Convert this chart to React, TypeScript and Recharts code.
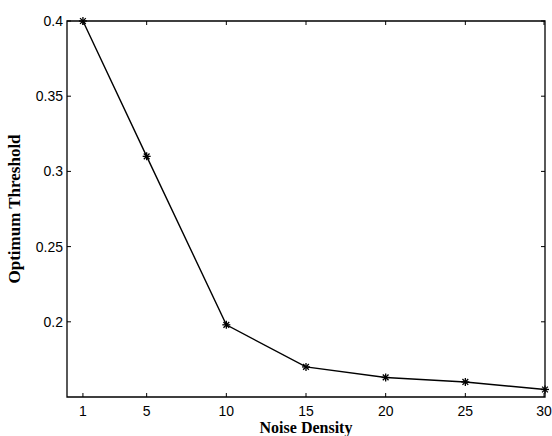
import React from "react";
import { Label, Line, LineChart, ReferenceArea, XAxis, YAxis } from "recharts";

// noise density on x, optimum threshold on y
const densities = [1, 5, 10, 15, 20, 25, 30];
const thresholds = [0.4, 0.31, 0.198, 0.17, 0.163, 0.16, 0.155];

const xTicks = [1, 5, 10, 15, 20, 25, 30];
const yTicks = [0.2, 0.25, 0.3, 0.35, 0.4];
const xDomain: [number, number] = [0, 30];
const yDomain: [number, number] = [0.15, 0.4];

const data = densities.map((d, i) => ({ density: d, threshold: thresholds[i] }));

const TICK_LEN = 4;
const TICK_GAP = 6;
const tickFont = { fontFamily: "'Liberation Sans', Arial, sans-serif", fontSize: 14, fill: "#000" };
const titleFont = { fontFamily: "'Liberation Serif', 'Times New Roman', serif", fontSize: 16, fontWeight: 700, fill: "#000" };

// MATLAB-style ticks: short marks pointing into the plot box
const BottomTick = (props: any) => {
  const { x, y, payload } = props;
  const axisY = y - TICK_GAP;
  return (
    <g>
      <line x1={x} x2={x} y1={axisY} y2={axisY - TICK_LEN} stroke="#000" strokeWidth={1} />
      <text x={x} y={axisY + 9} dy="0.72em" textAnchor="middle" {...tickFont}>
        {payload.value}
      </text>
    </g>
  );
};

const TopTick = (props: any) => {
  const { x, y } = props;
  const axisY = y + TICK_GAP;
  return <line x1={x} x2={x} y1={axisY} y2={axisY + TICK_LEN} stroke="#000" strokeWidth={1} />;
};

const LeftTick = (props: any) => {
  const { x, y, payload } = props;
  const axisX = x + TICK_GAP;
  return (
    <g>
      <line x1={axisX} x2={axisX + TICK_LEN} y1={y} y2={y} stroke="#000" strokeWidth={1} />
      <text x={axisX - 4} y={y} dy="0.36em" textAnchor="end" {...tickFont}>
        {String(payload.value)}
      </text>
    </g>
  );
};

const RightTick = (props: any) => {
  const { x, y } = props;
  const axisX = x - TICK_GAP;
  return <line x1={axisX} x2={axisX - TICK_LEN} y1={y} y2={y} stroke="#000" strokeWidth={1} />;
};

const Asterisk = (props: any) => {
  const { cx, cy } = props;
  if (cx == null || cy == null) return null;
  const r = 4;
  const d = r * 0.72;
  return (
    <g stroke="#000" strokeWidth={1.3}>
      <line x1={cx - r} x2={cx + r} y1={cy} y2={cy} />
      <line x1={cx} x2={cx} y1={cy - r} y2={cy + r} />
      <line x1={cx - d} x2={cx + d} y1={cy - d} y2={cy + d} />
      <line x1={cx - d} x2={cx + d} y1={cy + d} y2={cy - d} />
    </g>
  );
};

export default function App() {
  return (
    <div style={{ position: "absolute", left: 0, top: 0, background: "#fff" }}>
      <LineChart
        width={552}
        height={436}
        data={data}
        margin={{ top: 20, right: 6, bottom: 3, left: 7 }}
      >
        <XAxis
          dataKey="density"
          type="number"
          domain={xDomain}
          ticks={xTicks}
          height={36}
          tickSize={0}
          tickMargin={TICK_GAP}
          tick={<BottomTick />}
          axisLine={false}
        >
          <Label
            content={({ viewBox }: any) => (
              <text
                x={viewBox.x + viewBox.width / 2}
                y={viewBox.y + viewBox.height}
                textAnchor="middle"
                {...titleFont}
              >
                Noise Density
              </text>
            )}
          />
        </XAxis>
        <XAxis
          xAxisId="top"
          orientation="top"
          dataKey="density"
          type="number"
          domain={xDomain}
          ticks={xTicks}
          height={1}
          tickSize={0}
          tickMargin={TICK_GAP}
          tick={<TopTick />}
          axisLine={false}
        />
        <YAxis
          type="number"
          domain={yDomain}
          ticks={yTicks}
          width={60}
          tickSize={0}
          tickMargin={TICK_GAP}
          tick={<LeftTick />}
          axisLine={false}
        >
          <Label
            content={({ viewBox }: any) => {
              const cx = 14;
              const cy = viewBox.y + viewBox.height / 2;
              return (
                <text
                  x={cx}
                  y={cy}
                  textAnchor="middle"
                  dominantBaseline="central"
                  transform={`rotate(-90 ${cx} ${cy})`}
                  {...titleFont}
                  fontSize={17}
                >
                  Optimum Threshold
                </text>
              );
            }}
          />
        </YAxis>
        <YAxis
          yAxisId="right"
          orientation="right"
          type="number"
          domain={yDomain}
          ticks={yTicks}
          width={1}
          tickSize={0}
          tickMargin={TICK_GAP}
          tick={<RightTick />}
          axisLine={false}
        />
        {/* plot box outline */}
        <ReferenceArea
          x1={xDomain[0]}
          x2={xDomain[1]}
          y1={yDomain[0]}
          y2={yDomain[1]}
          fill="none"
          fillOpacity={0}
          stroke="#000"
          strokeWidth={1.3}
          strokeOpacity={1}
          ifOverflow="visible"
        />
        {/* invisible series so the top and right axes get their scales */}
        <Line
          xAxisId="top"
          yAxisId="right"
          dataKey="threshold"
          stroke="none"
          dot={false}
          activeDot={false}
          legendType="none"
          isAnimationActive={false}
        />
        <Line
          dataKey="threshold"
          stroke="#000"
          strokeWidth={1.4}
          dot={<Asterisk />}
          activeDot={false}
          isAnimationActive={false}
        />
      </LineChart>
    </div>
  );
}
